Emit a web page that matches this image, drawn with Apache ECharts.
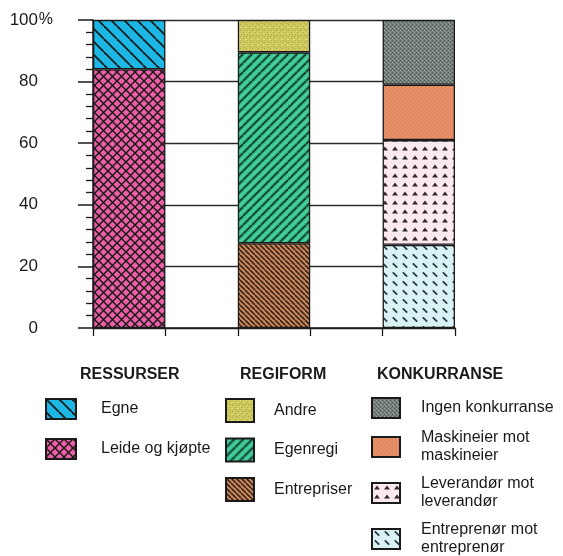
<!DOCTYPE html>
<html>
<head>
<meta charset="utf-8">
<script src="https://cdn.jsdelivr.net/npm/echarts@6/dist/echarts.min.js"></script>
<style>
  html, body { margin: 0; padding: 0; background: #fff; }
  #chart { width: 563px; height: 556px; }
</style>
</head>
<body>
<div id="chart"></div>
<script>
// bar slots: three stacked bars with empty slots between them
const categories = ['RESSURSER', '', 'REGIFORM', ' ', 'KONKURRANSE'];

// stacked bottom -> top
const ressurserNames = ['Leide og kjøpte', 'Egne'];
const ressurserValues = [84, 16];
const regiformNames = ['Entrepriser', 'Egenregi', 'Andre'];
const regiformValues = [27.5, 62, 10.5];
const konkurranseNames = ['Entreprenør mot\nentreprenør', 'Leverandør mot\nleverandør', 'Maskineier mot\nmaskineier', 'Ingen konkurranse'];
const konkurranseValues = [27, 34, 18, 21];

const groupTitles = ['RESSURSER', 'REGIFORM', 'KONKURRANSE'];

const INK = '#1a1a1a';
const FONT = '"Liberation Sans", Arial, sans-serif';

// canvas tile patterns, to mimic the hatched print
function tile(w, h, bg, draw) {
    const c = document.createElement('canvas');
    c.width = w; c.height = h;
    const ctx = c.getContext('2d');
    ctx.fillStyle = bg;
    ctx.fillRect(0, 0, w, h);
    ctx.strokeStyle = INK;
    ctx.fillStyle = INK;
    if (draw) draw(ctx, w, h);
    return { image: c, repeat: 'repeat' };
}
function back(ctx, s, lw, col) {
    ctx.strokeStyle = col || INK; ctx.lineWidth = lw;
    for (let k = -1; k <= 1; k++) {
        ctx.beginPath(); ctx.moveTo(k * s, 0); ctx.lineTo(k * s + s, s); ctx.stroke();
    }
}
function fwd(ctx, s, lw, col, off) {
    ctx.strokeStyle = col || INK; ctx.lineWidth = lw;
    off = off || 0;
    for (let k = -1; k <= 1; k++) {
        ctx.beginPath(); ctx.moveTo(k * s + off, s); ctx.lineTo(k * s + s + off, 0); ctx.stroke();
    }
}
function specks(ctx, pts, col, r) {
    ctx.fillStyle = col;
    pts.forEach(([x, y]) => ctx.fillRect(x, y, r, r));
}

const fills = {
    'Egne': tile(13, 13, '#1cb7e4', (c, w) => back(c, w, 1.8)),
    'Leide og kjøpte': tile(9, 9, '#ec5ea6', (c, w) => { back(c, w, 1.5); fwd(c, w, 1.5); }),
    'Andre': tile(6, 6, '#cdc75c', c => {
        specks(c, [[0, 0], [3, 2], [1, 4], [4, 5]], 'rgba(120,110,40,0.35)', 1);
        specks(c, [[2, 1], [5, 3], [0, 3]], 'rgba(255,255,200,0.45)', 1);
    }),
    'Egenregi': tile(9, 9, '#2fc38c', (c, w) => { fwd(c, w, 0.7, 'rgba(255,255,255,0.55)', 4.5); fwd(c, w, 1.8, '#173d2c'); }),
    'Entrepriser': tile(5, 5, '#cc8a5c', (c, w) => back(c, w, 1.6, '#3a2418')),
    'Ingen konkurranse': tile(4, 4, '#737d78', c => {
        specks(c, [[0, 0], [2, 2]], 'rgba(40,45,42,0.45)', 1);
        specks(c, [[2, 0], [0, 2], [1, 3]], 'rgba(210,215,210,0.4)', 1);
    }),
    'Maskineier mot\nmaskineier': tile(4, 4, '#e38a62', c => {
        specks(c, [[1, 1], [3, 3]], 'rgba(250,190,150,0.5)', 1);
    }),
    'Leverandør mot\nleverandør': tile(10, 9, '#fbe9ee', c => {
        c.fillStyle = '#2e2a2c';
        c.beginPath(); c.moveTo(2, 6.5); c.lineTo(5, 2.5); c.lineTo(8, 6.5); c.closePath(); c.fill();
    }),
    'Entreprenør mot\nentreprenør': tile(10, 9, '#d9f2f5', c => {
        c.lineWidth = 1.8; c.strokeStyle = '#2a3a3c';
        c.beginPath(); c.moveTo(2.8, 2.3); c.lineTo(7.2, 6.7); c.stroke();
    })
};

function groupSeries(names, values, ci) {
    return names.map((name, j) => ({
        name,
        type: 'bar',
        stack: 'all',
        barWidth: '100%',
        silent: true,
        itemStyle: { color: fills[name], borderColor: INK, borderWidth: 1.3 },
        data: categories.map((_, i) => (i === ci ? values[j] : null))
    }));
}

const series = [
    ...groupSeries(ressurserNames, ressurserValues, 0),
    ...groupSeries(regiformNames, regiformValues, 2),
    ...groupSeries(konkurranseNames, konkurranseValues, 4)
];

const legendText = { color: INK, fontSize: 16, fontFamily: FONT, lineHeight: 18 };
const legendBase = { orient: 'vertical', icon: 'rect', selectedMode: false, padding: 0, height: 200 };

const chart = echarts.init(document.getElementById('chart'), null, { renderer: 'canvas' });
chart.setOption({
    animation: false,
    backgroundColor: '#fff',
    grid: { left: 93, right: 108, top: 20, bottom: 228 },
    title: groupTitles.map((t, i) => ({
        text: t,
        left: [80, 240, 377][i],
        top: 367,
        padding: 0,
        textStyle: { fontSize: 16, fontWeight: 'bold', color: INK, fontFamily: FONT }
    })),
    legend: [
        {
            ...legendBase,
            data: ressurserNames.slice().reverse(),
            left: 45, top: 398, itemWidth: 30, itemHeight: 20, itemGap: 18,
            textStyle: { ...legendText, padding: [0, 0, 0, 20] }
        },
        {
            ...legendBase,
            data: regiformNames.slice().reverse(),
            left: 225, top: 398, itemWidth: 28, itemHeight: 23, itemGap: 14.5,
            textStyle: { ...legendText, padding: [0, 0, 0, 15] }
        },
        {
            ...legendBase,
            data: konkurranseNames.slice().reverse(),
            left: 371, top: 397, itemWidth: 28, itemHeight: 20, itemGap: 10,
            textStyle: { ...legendText, padding: [0, 0, 0, 16] }
        }
    ],
    xAxis: {
        type: 'category',
        data: categories,
        boundaryGap: true,
        axisLine: { lineStyle: { color: INK, width: 1.5 } },
        axisTick: { show: true, interval: 0, length: 8, lineStyle: { color: INK, width: 1.3 } },
        axisLabel: { show: false },
        splitLine: { show: false }
    },
    yAxis: {
        type: 'value',
        min: 0,
        max: 100,
        interval: 20,
        axisLine: { show: true, lineStyle: { color: INK, width: 1.5 } },
        axisTick: { show: true, length: 15, lineStyle: { color: INK, width: 1.5 } },
        minorTick: { show: true, splitNumber: 5, length: 7, lineStyle: { color: INK, width: 1.3 } },
        splitLine: { show: true, lineStyle: { color: '#2a2a2a', width: 1.3 } },
        axisLabel: {
            margin: 40,
            color: INK,
            formatter: v => '{n|' + v + '}{s|' + (v === 100 ? '%' : ' ') + '}',
            rich: {
                n: { fontSize: 17, fontFamily: FONT, color: INK },
                s: { fontSize: 16, fontFamily: FONT, color: INK, width: 15 }
            }
        }
    },
    series
});
</script>
</body>
</html>
